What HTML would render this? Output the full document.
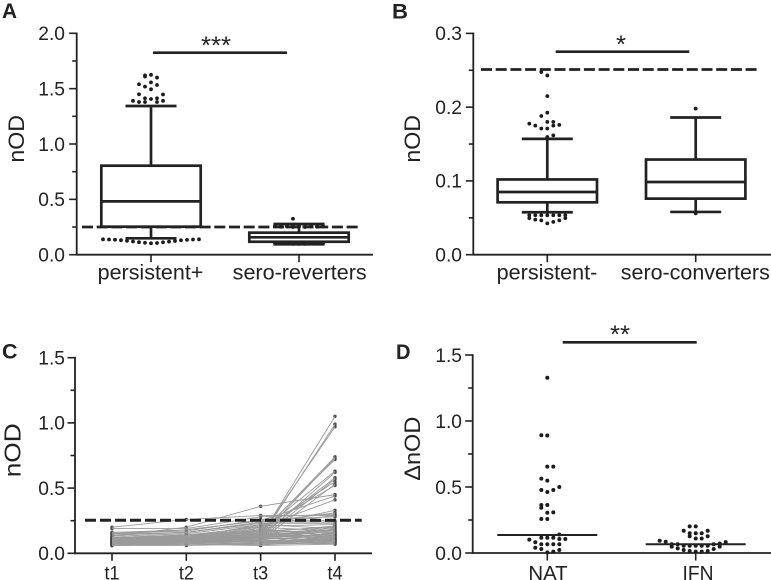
<!DOCTYPE html>
<html lang="en">
<head>
<meta charset="utf-8">
<title>nOD panels</title>
<style>
html,body{margin:0;padding:0;background:#fff;}
svg{display:block;font-family:"Liberation Sans",Arial,sans-serif;}
text{fill:#222;}
</style>
</head>
<body>
<svg id="chart" width="771" height="580" viewBox="0 0 771 580" xmlns="http://www.w3.org/2000/svg"></svg>
<script>
/* ---------- Panel A data ---------- */
const aCategories = ['persistent+', 'sero-reverters'];
const aTicks = ['0.0', '0.5', '1.0', '1.5', '2.0'];
const aPersistentBox = {low: 0.148, q1: 0.253, median: 0.482, q3: 0.804, high: 1.343};
const aReverterBox = {low: 0.094, q1: 0.117, median: 0.157, q3: 0.199, high: 0.277};
const aPersistentOutliers = [
  [1.62, 1.625, 1.60],
  [1.61, null, null],
  [1.557],
  [1.54, 1.518, 1.494, 1.533, null],
  [1.449, null, null, null, 1.447],
  [1.413, 1.406, 1.413],
  [1.39, 1.379, 1.379, null, 1.379, 1.39, null],
  [0.139, 0.137, 0.135, 0.131, 0.125, 0.119, 0.113, 0.108, 0.103, 0.106, 0.112, 0.118, 0.124, 0.13, 0.134, 0.137, 0.139]
];
const aReverterOutliers = [
  [0.325, null, null],
  [0.262, 0.258, 0.262, 0.255, 0.258, 0.252, 0.258, 0.255, 0.262],
  [0.256, 0.252, 0.254, 0.25, 0.252, 0.25, 0.254, 0.252, 0.256],
  [0.102, 0.1, 0.1, 0.098, 0.098, 0.098, 0.1, 0.1, 0.102],
  [0.106, 0.104, 0.104, 0.102, 0.102, 0.102, 0.104, 0.104, 0.106]
];
const aCutoff = 0.25;

/* ---------- Panel B data ---------- */
const bCategories = ['persistent-', 'sero-converters'];
const bTicks = ['0.0', '0.1', '0.2', '0.3'];
const bPersistentBox = {low: 0.0575, q1: 0.071, median: 0.085, q3: 0.102, high: 0.157};
const bConverterBox = {low: 0.058, q1: 0.076, median: 0.0985, q3: 0.129, high: 0.186};
const bPersistentOutliers = [
  [0.2476, 0.243, null],
  [0.215],
  [0.188, 0.1925, null],
  [null, 0.18, 0.18],
  [0.1776, 0.175, 0.171, 0.171, 0.175, 0.176, null],
  [null, 0.1595, 0.1618],
  [0.0535, 0.0535, 0.0535, 0.0535, 0.0535, 0.0535, 0.0535],
  [0.0495, 0.0475, 0.0465, 0.0425, 0.0445, 0.0465, 0.0495]
];
const bConverterOutliers = [[0.198], [0.056]];
const bCutoff = 0.251;

/* ---------- Panel C data: one row per subject, t1..t4 ---------- */
const cCategories = ['t1', 't2', 't3', 't4'];
const cTicks = ['0.0', '0.5', '1.0', '1.5'];
const cCutoff = 0.253;
const cSubjects = [
  [.10,.11,.13,1.05],[.09,.10,.12,.99],[.08,.09,.14,.97],[.11,.12,.15,.74],[.07,.09,.13,.73],
  [.12,.13,.16,.72],[.09,.11,.17,.63],[.06,.08,.12,.62],[.10,.12,.14,.58],[.08,.10,.11,.57],
  [.12,.12,.18,.55],[.07,.08,.10,.53],[.11,.13,.19,.52],[.13,.20,.36,.45],[.15,.18,.25,.44],
  [.12,.14,.20,.41],[.11,.13,.21,.33],[.14,.16,.24,.31],[.20,.26,.29,.29],[.19,.19,.28,.30],
  [.10,.12,.22,.29],[.16,.17,.26,.28],[.06,.07,.06,.07],[.06,.07,.07,.08],[.06,.06,.07,.09],
  [.07,.07,.08,.08],[.07,.07,.08,.10],[.07,.08,.09,.07],[.07,.08,.09,.11],[.08,.08,.10,.09],
  [.08,.08,.06,.12],[.08,.09,.10,.08],[.08,.09,.11,.13],[.08,.09,.12,.10],[.09,.09,.07,.14],
  [.09,.10,.11,.11],[.09,.10,.12,.15],[.09,.10,.13,.12],[.09,.11,.08,.16],[.10,.10,.12,.09],
  [.10,.11,.14,.13],[.10,.11,.15,.17],[.10,.12,.09,.10],[.10,.12,.16,.18],[.11,.11,.13,.14],
  [.11,.12,.10,.19],[.11,.12,.17,.12],[.11,.13,.18,.15],[.11,.13,.11,.20],[.12,.12,.14,.16],
  [.12,.13,.19,.13],[.12,.14,.12,.21],[.12,.14,.20,.17],[.10,.12,.15,.11],[.09,.13,.21,.22],
  [.08,.11,.13,.18],[.13,.15,.22,.19],[.07,.09,.16,.10],[.14,.16,.23,.23],[.09,.14,.17,.20],
  [.15,.16,.24,.24],[.07,.11,.14,.14],[.16,.18,.25,.25],[.06,.08,.15,.16],[.07,.09,.16,.21]
];

/* ---------- Panel D data ---------- */
const dCategories = ['NAT', 'IFN'];
const dTicks = ['0.0', '0.5', '1.0', '1.5'];
const dNatMedian = 0.136;
const dIfnMedian = 0.066;
const dNatPoints = [
  [1.328],
  [.892, .89, null],
  [null, .654, .654],
  [.563, .548, null],
  [.477, .462, .477],
  [null, null, null, null, .5],
  [.364, .364, null],
  [.343, null, null],
  [null, .305, .308],
  [.258, .258, null],
  [null, null, null, null, null, .14, null],
  [.101, null, .116, .116, .116, .106, .106],
  [null, .081, .066, .066, .066, .066, null],
  [null, .04, .03, .005, .01, .023, null]
];
const dIfnPoints = [
  [.202, .202, null],
  [.169, null, null, null, .169],
  [.15, .15, .15],
  [null, .127, .11, .11, .127],
  [.093, .085, .066, .066, .055, .055, .055, .055, .055, .066, .072, .082, null],
  [null, null, .048, .035, .023, .015, .01, .01, .015, .03, .048, null, null]
];

/* ---------- Axis functions ---------- */
const yA = v => 254.7 - v * 110.7;
const yB = v => 254.7 - v * 737.7;
const yC = v => 553.3 - v * 130.4;
const yD = v => 553 - v * 132;
const xA = i => 151 + i * 148;
const xB = i => 547.3 + i * 148.4;
const xC = i => 112 + i * 74.33;
const xD = i => 547.3 + i * 148.4;

/* ---------- Drawing helpers ---------- */
const NS = 'http://www.w3.org/2000/svg';
const svg = document.getElementById('chart');

function group(name, parent) {
  const el = document.createElementNS(NS, 'g');
  
  
  (parent || svg).appendChild(el);
  return el;
}
function line(parent, name, x1, y1, x2, y2, width, color, dash) {
  const el = document.createElementNS(NS, 'line');
  
  
  el.setAttribute('x1', x1);
  el.setAttribute('y1', y1);
  el.setAttribute('x2', x2);
  el.setAttribute('y2', y2);
  el.setAttribute('stroke', color || '#222');
  el.setAttribute('stroke-width', width);
  if (dash) el.setAttribute('stroke-dasharray', dash);
  parent.appendChild(el);
  return el;
}
function dot(parent, name, x, y, r, color) {
  const el = document.createElementNS(NS, 'circle');
  
  
  el.setAttribute('cx', x);
  el.setAttribute('cy', y);
  el.setAttribute('r', r);
  el.setAttribute('fill', color || '#1c1c1c');
  parent.appendChild(el);
  return el;
}
function label(parent, name, str, x, y, size, anchor, length, opts) {
  const el = document.createElementNS(NS, 'text');
  
  
  el.setAttribute('x', x);
  el.setAttribute('y', y);
  el.setAttribute('font-size', size);
  el.setAttribute('text-anchor', anchor || 'middle');
  if (length) {
    el.setAttribute('textLength', length);
    el.setAttribute('lengthAdjust', 'spacingAndGlyphs');
  }
  if (opts && opts.bold) el.setAttribute('font-weight', 'bold');
  if (opts && opts.rotate) el.setAttribute('transform', 'rotate(-90 ' + x + ' ' + y + ')');
  el.textContent = str;
  parent.appendChild(el);
  return el;
}
function yAxis(parent, x, top, bottom, yFn, ticks, step, labelRight) {
  line(parent, 'y-axis-line', x, top - 0.8, x, bottom + 0.8, 1.8);
  const maxV = parseFloat(ticks[ticks.length - 1]);
  const minor = Math.round(maxV / step) * 2;
  for (let i = 0; i <= minor; i++) {
    const v = i * step / 2;
    const major = i % 2 === 0;
    line(parent, major ? 'y-tick-major' : 'y-tick-minor', major ? x - 7.5 : x - 4.5, yFn(v), x, yFn(v), 1.6);
  }
  ticks.forEach(t => {
    label(parent, 'y-tick-label', t, labelRight, yFn(parseFloat(t)) + 6.8, 19, 'end', 26.7);
  });
}
function xAxis(parent, left, right, y, xFn, n) {
  line(parent, 'x-axis-line', left, y, right, y, 1.8);
  for (let i = 0; i < n; i++) {
    line(parent, 'x-tick', xFn(i), y, xFn(i), y + 7.5, 1.6);
  }
}
function boxPlot(parent, name, b, cx, yFn) {
  const g = group(name, parent);
  const w = 2.7;
  line(g, 'upper-whisker', cx, yFn(b.q3), cx, yFn(b.high), w);
  line(g, 'lower-whisker', cx, yFn(b.q1), cx, yFn(b.low), w);
  line(g, 'upper-whisker-cap', cx - 25.5, yFn(b.high), cx + 25.5, yFn(b.high), w);
  line(g, 'lower-whisker-cap', cx - 25.5, yFn(b.low), cx + 25.5, yFn(b.low), w);
  const el = document.createElementNS(NS, 'rect');
  
  
  el.setAttribute('x', cx - 49.7);
  el.setAttribute('y', yFn(b.q3));
  el.setAttribute('width', 99.4);
  el.setAttribute('height', yFn(b.q1) - yFn(b.q3));
  el.setAttribute('fill', '#fff');
  el.setAttribute('stroke', '#222');
  el.setAttribute('stroke-width', w);
  g.appendChild(el);
  line(g, 'median-line', cx - 49.7, yFn(b.median), cx + 49.7, yFn(b.median), w);
}
/* Each row lists values left to right in bee-swarm slots around the category centre. */
function swarm(parent, name, rows, cx, yFn, r) {
  const g = group(name, parent);
  rows.forEach(row => {
    const mid = (row.length - 1) / 2;
    row.forEach((v, i) => {
      if (v !== null) dot(g, 'data-point', cx + (i - mid) * 6, yFn(v), r);
    });
  });
}

/* ---------- Panel A ---------- */
const pA = group('panel-a');
label(pA, 'panel-letter-a', 'A', 2, 18, 21, 'start', 15, {bold: true});
yAxis(pA, 76.7, 33.3, 254.7, yA, aTicks, 0.5, 65);
xAxis(pA, 76, 373, 254.7, xA, 2);
label(pA, 'y-axis-title', 'nOD', 24, 138.8, 22, 'middle', 47.7, {rotate: true});
swarm(pA, 'persistent-plus-outliers', aPersistentOutliers, xA(0), yA, 1.9);
boxPlot(pA, 'persistent-plus-box', aPersistentBox, xA(0), yA);
swarm(pA, 'sero-reverters-outliers', aReverterOutliers, xA(1), yA, 1.9);
boxPlot(pA, 'sero-reverters-box', aReverterBox, xA(1), yA);
line(pA, 'cutoff-line', 82, yA(aCutoff), 359, yA(aCutoff), 2.8, '#222', '11 3.7');
label(pA, 'x-tick-label', aCategories[0], 150.5, 279.3, 21, 'middle', 105.7);
label(pA, 'x-tick-label', aCategories[1], 299.7, 279.3, 21, 'middle', 134);
line(pA, 'significance-bar', 153, 52.7, 287, 52.7, 2.6);
label(pA, 'significance-stars', '***', 216, 54, 25, 'middle', 30);

/* ---------- Panel B ---------- */
const pB = group('panel-b');
label(pB, 'panel-letter-b', 'B', 392, 18.5, 21, 'start', 16, {bold: true});
yAxis(pB, 473.3, 33.3, 254.7, yB, bTicks, 0.1, 462);
xAxis(pB, 472.5, 771, 254.7, xB, 2);
label(pB, 'y-axis-title', 'nOD', 420, 138.8, 22, 'middle', 47.7, {rotate: true});
swarm(pB, 'persistent-minus-outliers', bPersistentOutliers, xB(0), yB, 1.9);
boxPlot(pB, 'persistent-minus-box', bPersistentBox, xB(0), yB);
swarm(pB, 'sero-converters-outliers', bConverterOutliers, xB(1), yB, 1.9);
boxPlot(pB, 'sero-converters-box', bConverterBox, xB(1), yB);
line(pB, 'cutoff-line', 481, yB(bCutoff), 758, yB(bCutoff), 2.8, '#222', '11 3.7');
label(pB, 'x-tick-label', bCategories[0], 547, 279.3, 21, 'middle', 100.7);
label(pB, 'x-tick-label', bCategories[1], 695.3, 279.3, 21, 'middle', 149);
line(pB, 'significance-bar', 555.7, 51.7, 689.3, 51.7, 2.6);
label(pB, 'significance-star', '*', 621, 53, 25, 'middle', 10);

/* ---------- Panel C ---------- */
const pC = group('panel-c');
label(pC, 'panel-letter-c', 'C', 2, 358.5, 21, 'start', 15.5, {bold: true});
yAxis(pC, 75, 357.7, 553.3, yC, cTicks, 0.5, 65);
xAxis(pC, 74, 372, 553.3, xC, 4);
label(pC, 'y-axis-title', 'nOD', 20.5, 450.3, 23, 'middle', 54, {rotate: true});
const cPoints = group('subject-points', pC);
cSubjects.forEach(s => {
  s.forEach((v, i) => {
    dot(cPoints, 'subject-point', xC(i), yC(v), 1.7, '#4a4a4a');
  });
});
const cLines = group('subject-lines', pC);
cSubjects.forEach(s => {
  for (let i = 0; i < 3; i++) {
    line(cLines, 'subject-line-segment', xC(i), yC(s[i]), xC(i + 1), yC(s[i + 1]), 0.9, '#9a9a9a');
  }
});
line(pC, 'cutoff-line', 85, yC(cCutoff), 361.7, yC(cCutoff), 3, '#222', '11 4');
cCategories.forEach((c, i) => {
  label(pC, 'x-tick-label', c, xC(i), 579.7, 19, 'middle', 15);
});

/* ---------- Panel D ---------- */
const pD = group('panel-d');
label(pD, 'panel-letter-d', 'D', 396, 359, 21, 'start', 14.5, {bold: true});
yAxis(pD, 472.7, 355, 553, yD, dTicks, 0.5, 462);
xAxis(pD, 472, 771, 553, xD, 2);
label(pD, 'y-axis-title', 'ΔnOD', 420, 448.7, 22, 'middle', 64, {rotate: true});
swarm(pD, 'nat-points', dNatPoints, xD(0), yD, 2);
swarm(pD, 'ifn-points', dIfnPoints, xD(1), yD, 2);
line(pD, 'nat-median-line', xD(0) - 50, yD(dNatMedian), xD(0) + 50, yD(dNatMedian), 2);
line(pD, 'ifn-median-line', xD(1) - 50, yD(dIfnMedian), xD(1) + 50, yD(dIfnMedian), 2);
label(pD, 'x-tick-label', dCategories[0], 548, 580, 20, 'middle', 39.3);
label(pD, 'x-tick-label', dCategories[1], 698, 580, 20, 'middle', 31);
line(pD, 'significance-bar', 562.7, 342.3, 696.7, 342.3, 2.6);
label(pD, 'significance-stars', '**', 620, 343, 25, 'middle', 20);
</script>
</body>
</html>
